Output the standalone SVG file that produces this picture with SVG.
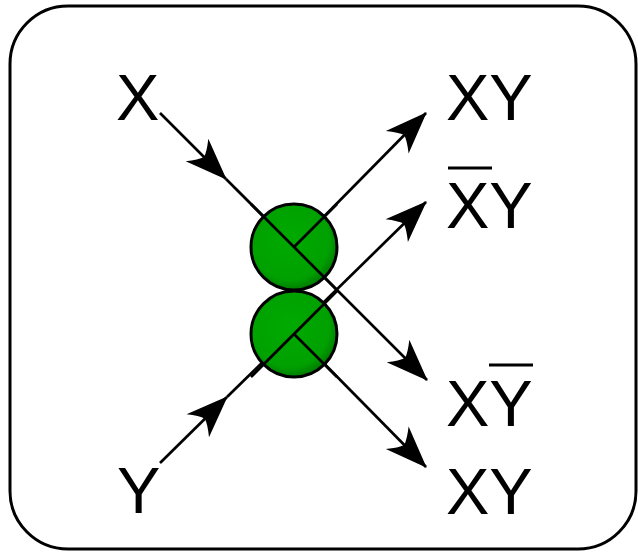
<svg xmlns="http://www.w3.org/2000/svg" width="638" height="552" viewBox="0 0 638 552">
<style>
.lbl{font-family:"Liberation Sans",Arial,sans-serif;font-size:65px;fill:#000}
.wire{fill:none;stroke:#000;stroke-width:2.7}
.bar{stroke:#000;stroke-width:3}
.ball{fill:url(#g);stroke:#000;stroke-width:3}
</style>
<defs>
<radialGradient id="g" cx="0.45" cy="0.42" r="0.62">
<stop offset="0" stop-color="#00aa00"/>
<stop offset="0.75" stop-color="#00a000"/>
<stop offset="1" stop-color="#007000"/>
</radialGradient>
<marker id="ah" markerUnits="userSpaceOnUse" viewBox="-44 -18 46 36" refX="0" refY="0" markerWidth="46" markerHeight="36" orient="auto" overflow="visible">
<path d="M1,0 L-41,16 Q-33,6 -31,0 Q-33,-6 -41,-16 Z" fill="#000"/>
</marker>
</defs>
<rect id="frame" x="10" y="6" width="626" height="543" rx="58" ry="58" fill="#fff" stroke="#000" stroke-width="3"/>
<g id="connectors">
<path class="wire" d="M160,113 L226,179" marker-end="url(#ah)"/>
<path class="wire" d="M226,179 L427,380" marker-end="url(#ah)"/>
<path class="wire" d="M294,247 L426,113" marker-end="url(#ah)"/>
<path class="wire" d="M160,463 L227,397" marker-end="url(#ah)"/>
<path class="wire" d="M227,397 L426,202" marker-end="url(#ah)"/>
<path class="wire" d="M294,333 L426,467" marker-end="url(#ah)"/>
</g>
<g id="ball-top"><circle class="ball" cx="294" cy="247" r="43"/></g>
<g id="ball-bottom"><circle class="ball" cx="294" cy="334" r="43"/></g>
<g id="connectors-over">
<path class="wire" d="M251,204 L337,290"/>
<path class="wire" d="M294,247 L337,204"/>
<path class="wire" d="M251,377 L337,291"/>
<path class="wire" d="M294,334 L337,377"/>
</g>
<g id="in-x"><text class="lbl" x="116" y="120">X</text></g>
<g id="in-y"><text class="lbl" x="117" y="513">Y</text></g>
<g id="out-xy-top"><text class="lbl" x="446" y="120">XY</text></g>
<g id="out-notx-y"><text class="lbl" x="446" y="228">XY</text><line class="bar" x1="448" y1="168" x2="492" y2="168"/></g>
<g id="out-x-noty"><text class="lbl" x="446" y="426">XY</text><line class="bar" x1="489" y1="365" x2="533" y2="365"/></g>
<g id="out-xy-bottom"><text class="lbl" x="446" y="514">XY</text></g>
</svg>
